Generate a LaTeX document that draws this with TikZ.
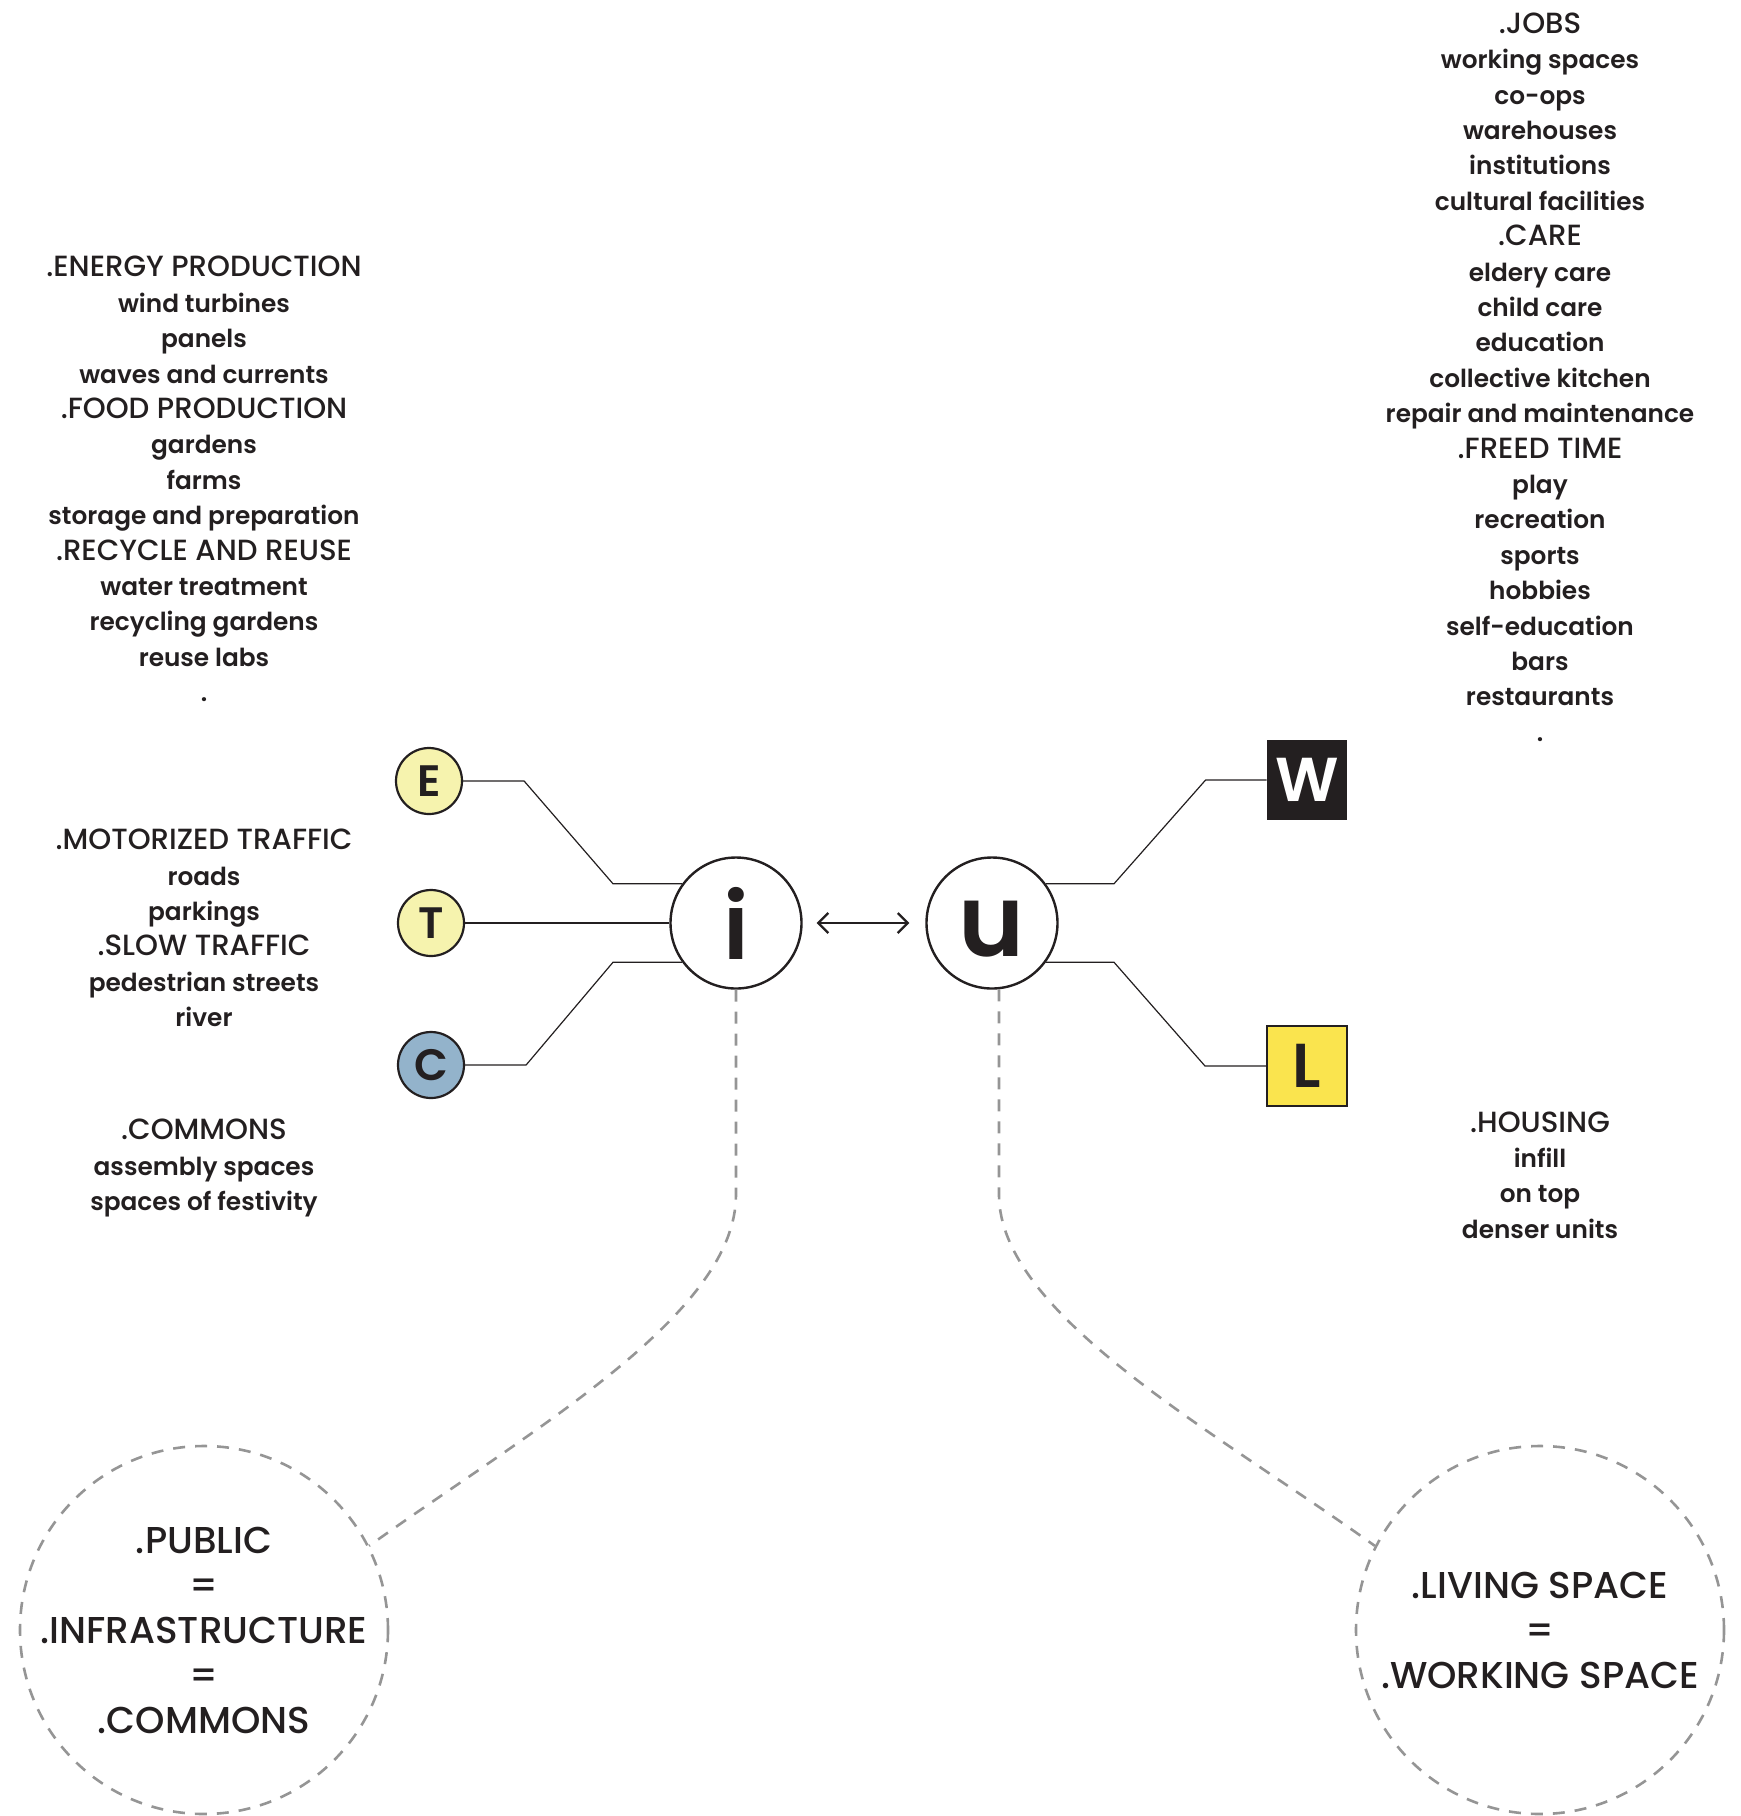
\documentclass[tikz,border=0pt]{standalone}
\usepackage{fontspec}
\setmainfont{Poppins Medium}
\newfontfamily\semifont{Poppins SemiBold}
\usetikzlibrary{positioning, calc, arrows.meta}

\definecolor{ink}{HTML}{231F20}
\definecolor{paleyellow}{HTML}{F6F3AE}
\definecolor{commonsblue}{HTML}{93B3CB}
\definecolor{livingyellow}{HTML}{FAE44E}
\definecolor{dashgray}{HTML}{959595}

% heading lines of the lists: lighter and a bit larger than the items
\newcommand{\hd}[1]{{\rmfamily\fontsize{14.6}{17.7}\selectfont #1}}

\tikzset{
    listtext/.style={text=ink, align=center, inner sep=0pt,
        font=\semifont\fontsize{12.4}{17.7}\selectfont},
    lettercircle/.style={circle, draw=ink, line width=1.1pt, minimum size=33pt,
        inner sep=0pt, text=ink, font=\semifont\fontsize{22}{22}\selectfont},
    hubcircle/.style={circle, draw=ink, line width=1.2pt, fill=white, minimum size=65.5pt,
        inner sep=0pt, text=ink, font=\semifont\fontsize{46}{46}\selectfont},
    letterbox/.style={rectangle, minimum size=40pt, inner sep=0pt,
        font=\semifont\fontsize{31}{31}\selectfont},
    spacecircle/.style={circle, draw=dashgray, line width=1.3pt, dash pattern=on 6pt off 5pt,
        minimum size=184pt, inner sep=0pt},
    spacetext/.style={align=center, text=ink, inner sep=0pt,
        font=\fontsize{18.7}{22.5}\selectfont},
    link/.style={draw=ink, line width=0.6pt},
    dashlink/.style={draw=dashgray, line width=1.3pt, dash pattern=on 6pt off 5pt},
    pairarrow/.style={{Straight Barb[length=5pt,width=10pt]}-{Straight Barb[length=5pt,width=10pt]},
        draw=ink, line width=1.1pt, shorten <=7pt, shorten >=8pt}
}

\begin{document}
\begin{tikzpicture}[x=0.5pt, y=-0.5pt]
    \useasboundingbox (0,0) rectangle (1741,1816);

    % ================= lists =================
    \node[listtext] (energy) at (204,479) {\hd{.ENERGY PRODUCTION}\\ wind turbines\\ panels\\
        waves and currents\\ \hd{.FOOD PRODUCTION}\\ gardens\\ farms\\ storage and preparation\\
        \hd{.RECYCLE AND REUSE}\\ water treatment\\ recycling gardens\\ reuse labs\\ .};
    \node[listtext] (traffic) at (204,928) {\hd{.MOTORIZED TRAFFIC}\\ roads\\ parkings\\
        \hd{.SLOW TRAFFIC}\\ pedestrian streets\\ river};
    \node[listtext] (commons) at (204,1168) {\hd{.COMMONS}\\ assembly spaces\\ spaces of festivity};

    \node[listtext] (jobs) at (1540,377) {\hd{.JOBS}\\ working spaces\\ co-ops\\ warehouses\\
        institutions\\ cultural facilities\\ \hd{.CARE}\\ eldery care\\ child care\\ education\\
        collective kitchen\\ repair and maintenance\\ \hd{.FREED TIME}\\ play\\ recreation\\
        sports\\ hobbies\\ self-education\\ bars\\ restaurants\\ .};
    \node[listtext] (housing) at (1540,1175) {\hd{.HOUSING}\\ infill\\ on top\\ denser units};

    % ================= letters =================
    \node[lettercircle, fill=paleyellow] (E) at (429,781) {E};
    \node[lettercircle, fill=paleyellow] (T) at (431,923) {T};
    \node[lettercircle, fill=commonsblue] (C) at (431,1065) {C};

    \node[letterbox, fill=ink, text=white] (W) at (1307,780) {W};
    \node[letterbox, fill=livingyellow, draw=ink, line width=1pt, text=ink] (L) at (1307,1066) {L};

    % ================= hubs =================
    \node[hubcircle] (i) at (736,923) {i};
    \node[hubcircle, font=\semifont\fontsize{50}{50}\selectfont,
        text height=33.7pt, text depth=0pt] (u) at (992,923) {u};

    \draw[pairarrow] (i) -- (u);

    % branches
    \draw[link] (E.east) -- ++(61,0) -- ($(i.144)+(-69,0)$) -- (i.144);
    \draw[link] (T.east) -- (i.west);
    \draw[link] (C.east) -- ++(61,0) -- ($(i.216)+(-69,0)$) -- (i.216);
    \draw[link] (u.36) -- ++(68,0) -- ($(W.west)+(-61,0)$) -- (W.west);
    \draw[link] (u.-36) -- ++(68,0) -- ($(L.west)+(-61,0)$) -- (L.west);

    % ================= spaces =================
    \node[spacecircle] (public) at (204,1630) {};
    \node[spacetext] (publictext) at (public) {.PUBLIC\\ =\\ .INFRASTRUCTURE\\ =\\ .COMMONS};
    \node[spacecircle] (living) at (1540,1630) {};
    \node[spacetext] (livingtext) at (living) {.LIVING SPACE\\ =\\ .WORKING SPACE};

    \draw[dashlink] (i.south) -- ++(0,205) .. controls +(0,120) and +(162,-116) .. (public.27);
    \draw[dashlink] (u.-84) -- ++(0,205) .. controls +(0,120) and +(-162,-116) .. (living.153);

\end{tikzpicture}
\end{document}
